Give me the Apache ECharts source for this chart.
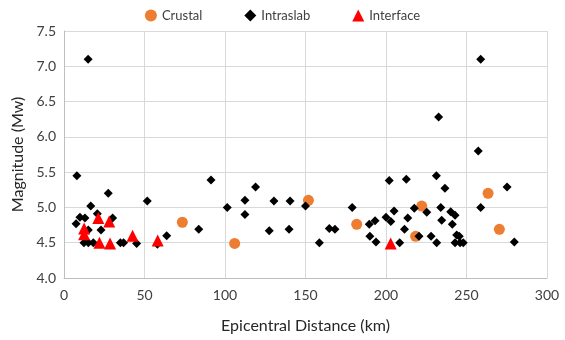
<!DOCTYPE html>
<html><head><meta charset="utf-8">
<script src="https://cdn.jsdelivr.net/npm/echarts@6/dist/echarts.min.js"></script>
<style>html,body{margin:0;padding:0;background:#fff}#c{width:565px;height:340px}</style>
</head><body><div id="c"></div>
<script>
var xTicks = [0, 50, 100, 150, 200, 250, 300];
var yTicks = [4.0, 4.5, 5.0, 5.5, 6.0, 6.5, 7.0, 7.5];
var crustal = [[73.5,4.79],[106,4.49],[151.8,5.1],[181.8,4.76],[218.4,4.59],[222.2,5.02],[263.4,5.2],[270.4,4.69]];
var intraslab = [[8,5.45],[15,7.1],[27.5,5.2],[16.6,5.02],[20.7,4.91],[9.9,4.86],[13,4.85],[7.5,4.77],[30.2,4.85],[15.1,4.68],[23,4.68],[12.4,4.5],[15.1,4.5],[18.2,4.5],[35,4.5],[37,4.5],[45.1,4.49],[51.7,5.09],[58,4.48],[63.8,4.6],[83.7,4.69],[91.3,5.39],[101.4,5.0],[112.4,5.1],[112.4,4.9],[119,5.29],[127.5,4.67],[130.4,5.09],[140.4,5.09],[139.8,4.69],[150,5.02],[158.6,4.5],[164.8,4.7],[168.3,4.69],[179,5.0],[189.6,4.76],[193.2,4.81],[190,4.59],[193.8,4.51],[200,4.86],[203,4.8],[205,4.95],[202,5.38],[208.5,4.5],[211.5,4.69],[213.5,4.85],[212.6,5.4],[217.6,4.99],[220.5,4.59],[225.3,4.93],[228,4.59],[231.3,5.45],[232.7,6.28],[231.5,4.5],[234,5.0],[234.6,4.82],[236.6,5.27],[240.2,4.94],[242.9,4.89],[241.2,4.76],[243.9,4.61],[245.5,4.59],[242.9,4.5],[246,4.5],[248,4.5],[257.3,5.8],[258.8,7.1],[258.8,5.0],[275.2,5.29],[279.7,4.51]];
var interfaceData = [[12.5,4.7],[12.5,4.62],[21.3,4.85],[28.1,4.8],[22,4.5],[28.6,4.49],[42.6,4.6],[58.2,4.53],[202.9,4.49]];

var font = 'Lato, "Open Sans", sans-serif';
var chart = echarts.init(document.getElementById('c'), null, {renderer: 'canvas'});
chart.setOption({
  animation: false,
  textStyle: {fontFamily: font},
  legend: {
    top: 4, left: 'center', itemGap: 42, itemWidth: 12, itemHeight: 12,
    textStyle: {fontFamily: font, fontSize: 13, color: '#404040'},
    data: [
      {name: 'Crustal', icon: 'circle'},
      {name: 'Intraslab', icon: 'diamond'},
      {name: 'Interface', icon: 'triangle'}
    ]
  },
  grid: {left: 64, right: 18, top: 31, bottom: 62},
  xAxis: {
    type: 'value', min: xTicks[0], max: xTicks[xTicks.length-1], interval: 50,
    name: 'Epicentral Distance (km)', nameLocation: 'middle', nameGap: 40,
    nameTextStyle: {fontFamily: font, fontSize: 16, color: '#262626'},
    axisLine: {show: true, lineStyle: {color: '#bfbfbf'}},
    axisTick: {show: false},
    axisLabel: {fontFamily: font, fontSize: 14, color: '#404040', margin: 10},
    splitLine: {show: true, lineStyle: {color: '#d9d9d9', width: 1}}
  },
  yAxis: {
    type: 'value', min: yTicks[0], max: yTicks[yTicks.length-1], interval: 0.5,
    name: 'Magnitude (Mw)', nameLocation: 'middle', nameGap: 36, nameRotate: 90,
    nameTextStyle: {fontFamily: font, fontSize: 16, color: '#262626'},
    axisLine: {show: true, lineStyle: {color: '#bfbfbf'}},
    axisTick: {show: false},
    axisLabel: {fontFamily: font, fontSize: 14, color: '#404040', margin: 8,
      formatter: function(v){ return v.toFixed(1); }},
    splitLine: {show: true, lineStyle: {color: '#d9d9d9', width: 1}}
  },
  series: [
    {name: 'Crustal', type: 'scatter', symbol: 'circle', symbolSize: 11, z: 2,
     itemStyle: {color: '#ED7D31', opacity: 1}, data: crustal},
    {name: 'Intraslab', type: 'scatter', symbol: 'diamond', symbolSize: 9, z: 3,
     itemStyle: {color: '#000000', opacity: 1}, data: intraslab},
    {name: 'Interface', type: 'scatter', symbol: 'triangle', symbolSize: 12, z: 4,
     itemStyle: {color: '#FF0000', opacity: 1}, data: interfaceData}
  ]
});
</script></body></html>
